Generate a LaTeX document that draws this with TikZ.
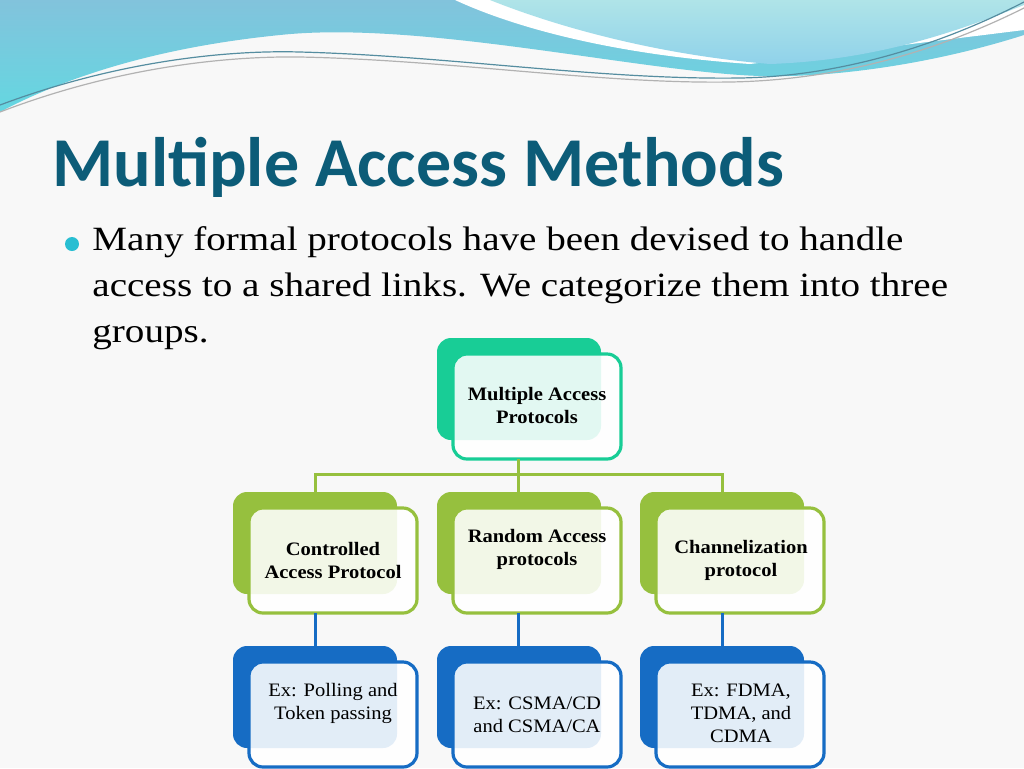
\documentclass[tikz,border=0pt]{standalone}
\usepackage{fontspec}
\usepackage{graphicx}
\setmainfont{Liberation Serif}
\newfontfamily\titlefont{Carlito}
\definecolor{bg}{RGB}{248,248,248}
\definecolor{titlec}{RGB}{12,92,120}
\definecolor{bul}{RGB}{40,190,210}
\definecolor{topc}{RGB}{24,205,150}
\definecolor{limec}{RGB}{150,192,62}
\definecolor{bluec}{RGB}{22,108,196}
\definecolor{waveA}{RGB}{130,195,220}
\definecolor{waveB}{RGB}{100,215,225}
\definecolor{waveC}{RGB}{175,228,232}
\definecolor{waveD}{RGB}{70,180,220}
\newcommand{\widetxt}[1]{\scalebox{1.15}[1]{#1}}
\newcommand{\boxtxt}[1]{\scalebox{1.08}[1]{#1}}
\tikzset{
 frontbox/.style={rounded corners=7, line width=1.6pt, fill=white, fill opacity=0.88, text opacity=1, align=center},
 lbl/.style={align=center, font=\fontsize{9.5}{11.5}\selectfont\bfseries},
 lbln/.style={align=center, font=\fontsize{9.5}{11.5}\selectfont},
}
\begin{document}
\begin{tikzpicture}[x=0.5pt,y=-0.5pt]
\fill[bg] (0,0) rectangle (1024,768);
\useasboundingbox (0,0) rectangle (1024,768);
% waves
\shade[top color=waveA, bottom color=waveB] (0,0) -- (1024,0) -- (1024,35) .. controls (930,65) and (830,78) .. (760,76) .. controls (640,72) and (420,20) .. (280,35) .. controls (150,48) and (60,80) .. (0,112) -- cycle;
\fill[white] (455,0) .. controls (520,30) and (620,55) .. (750,64) -- (1024,30) -- (1024,0) -- cycle;
\shade[top color=waveC, bottom color=waveD!60] (490,0) .. controls (560,28) and (660,55) .. (770,64) .. controls (880,60) and (960,30) .. (1024,5) -- (1024,0) -- cycle;
\draw[titlec!70, line width=0.6pt] (0,105) .. controls (120,60) and (230,50) .. (300,52) .. controls (450,56) and (600,80) .. (740,78) .. controls (850,76) and (950,40) .. (1024,2);
\draw[gray!60, line width=0.6pt] (0,112) .. controls (120,66) and (230,56) .. (300,57) .. controls (450,60) and (600,84) .. (730,82) .. controls (850,80) and (950,45) .. (1024,8);
% title
\node[anchor=west, inner sep=0, text=titlec, font=\titlefont\fontsize{35}{40}\selectfont\bfseries] (title) at (52,167) {Multiple Access Methods};
\fill[bul] (72,244) circle (7);
\node[anchor=north west, inner sep=0, align=left, font=\fontsize{17}{23}\selectfont] (body) at (92,226) {\widetxt{Many formal protocols have been devised to handle}\\\widetxt{access to a shared links. We categorize them into three}\\\widetxt{groups.}};
% boxes
\foreach \n/\x/\y/\c in {t/437/338/topc, a/233/492/limec, b/437/492/limec, c/640/492/limec, d/233/646/bluec, e/437/646/bluec, f/640/646/bluec}{
  \fill[\c, rounded corners=7] (\x,\y) rectangle ++(164,102);
  \draw[frontbox, draw=\c] (\x+16,\y+16) rectangle ++(168,105);
}
\node[lbl] (tl) at (537,405) {\boxtxt{Multiple Access}\\\boxtxt{Protocols}};
\node[lbl] (al) at (333,560) {\boxtxt{Controlled}\\\boxtxt{Access Protocol}};
\node[lbl] (bl) at (537,549) {\boxtxt{Random Access}\\\boxtxt{protocols}};
\node[lbl] (cl) at (741,560) {\boxtxt{Channelization}\\\boxtxt{protocol}};
\node[lbln] (dl) at (333,703) {\boxtxt{Ex: Polling and}\\\boxtxt{Token passing}};
\node[lbln] (el) at (537,715) {\boxtxt{Ex: CSMA/CD}\\\boxtxt{and CSMA/CA}};
\node[lbln] (fl) at (741,713) {\boxtxt{Ex: FDMA,}\\\boxtxt{TDMA, and}\\\boxtxt{CDMA}};
% connectors
\draw[limec, line width=1.5pt] (518,459) -- (518,492) (315,492) |- (722,474) -- (722,492);
\draw[bluec, line width=1.5pt] (315,613) -- (315,646) (518,613) -- (518,646) (722,613) -- (722,646);
\end{tikzpicture}
\end{document}
